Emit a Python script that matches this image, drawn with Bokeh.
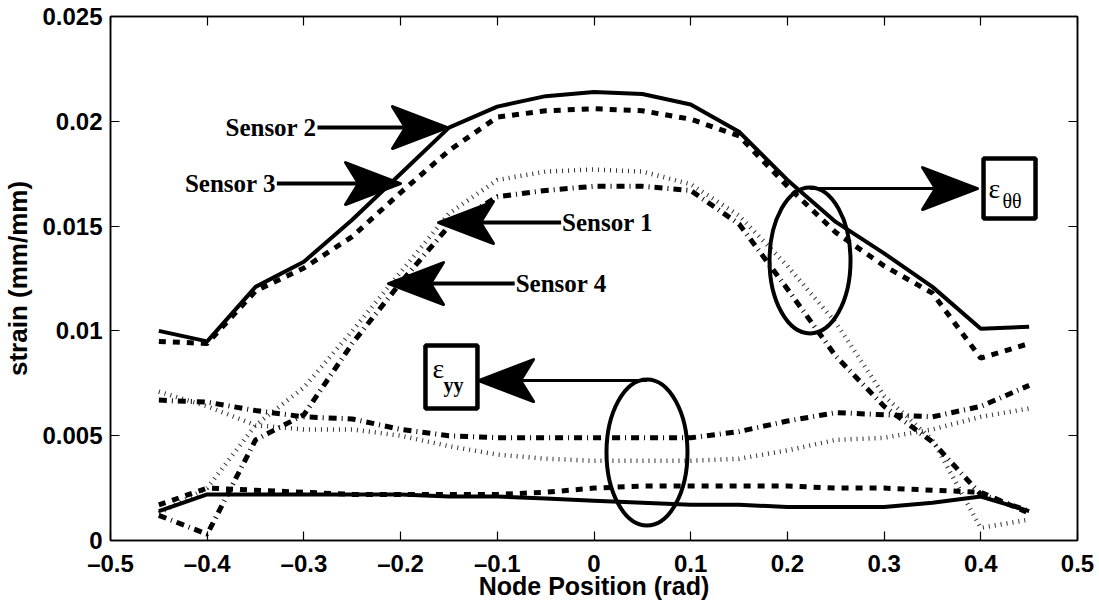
from bokeh.plotting import figure
from bokeh.models import FixedTicker, LinearAxis, Range1d
from bokeh.embed import file_html
from bokeh.resources import INLINE
from bokeh.core.properties import value

# ---------------- data ----------------
node_pos = [-0.45, -0.40, -0.35, -0.30, -0.25, -0.20, -0.15, -0.10, -0.05, 0.00,
            0.05, 0.10, 0.15, 0.20, 0.25, 0.30, 0.35, 0.40, 0.45]

# hoop strain (eps_theta_theta)
s1_theta = [0.0013, 0.0025, 0.0055, 0.0073, 0.0100, 0.0128, 0.0156, 0.0172, 0.0176, 0.0177,
            0.0176, 0.0170, 0.0155, 0.0131, 0.0104, 0.0069, 0.0048, 0.0006, 0.0010]
s2_theta = [0.0100, 0.0095, 0.0121, 0.0133, 0.0153, 0.0175, 0.0197, 0.0207, 0.0212, 0.0214,
            0.0213, 0.0208, 0.0195, 0.0172, 0.0152, 0.0137, 0.0121, 0.0101, 0.0102]
s3_theta = [0.0095, 0.0094, 0.0119, 0.0130, 0.0145, 0.0166, 0.0186, 0.0202, 0.0205, 0.0206,
            0.0205, 0.0201, 0.0193, 0.0169, 0.0147, 0.0131, 0.0118, 0.0087, 0.0094]
s4_theta = [0.0012, 0.0003, 0.0048, 0.0060, 0.0094, 0.0123, 0.0150, 0.0164, 0.0167, 0.0169,
            0.0169, 0.0167, 0.0151, 0.0120, 0.0088, 0.0064, 0.0047, 0.0022, 0.0014]

# axial strain (eps_yy)
s1_yy = [0.0071, 0.0064, 0.0055, 0.0053, 0.0053, 0.0050, 0.0045, 0.0041, 0.0039, 0.0038,
         0.0038, 0.0038, 0.0039, 0.0043, 0.0048, 0.0049, 0.0053, 0.0059, 0.0063]
s2_yy = [0.0014, 0.0022, 0.0022, 0.0022, 0.0022, 0.0022, 0.0021, 0.0021, 0.0020, 0.0019,
         0.0018, 0.0017, 0.0017, 0.0016, 0.0016, 0.0016, 0.0018, 0.0021, 0.0014]
s3_yy = [0.0017, 0.0025, 0.0024, 0.0023, 0.0022, 0.0022, 0.0022, 0.0022, 0.0023, 0.0025,
         0.0026, 0.0026, 0.0026, 0.0026, 0.0025, 0.0025, 0.0024, 0.0023, 0.0013]
s4_yy = [0.0067, 0.0066, 0.0062, 0.0059, 0.0058, 0.0053, 0.0050, 0.0049, 0.0049, 0.0049,
         0.0049, 0.0049, 0.0052, 0.0057, 0.0061, 0.0060, 0.0059, 0.0064, 0.0074]

x_ticks = [-0.5, -0.4, -0.3, -0.2, -0.1, 0.0, 0.1, 0.2, 0.3, 0.4, 0.5]
x_tick_labels = ["\u20130.5", "\u20130.4", "\u20130.3", "\u20130.2", "\u20130.1", "0",
                 "0.1", "0.2", "0.3", "0.4", "0.5"]
y_ticks = [0.0, 0.005, 0.01, 0.015, 0.02, 0.025]
y_tick_labels = ["0", "0.005", "0.01", "0.015", "0.02", "0.025"]

# annotations (data coordinates)
sensor_names = ["Sensor 2", "Sensor 3", "Sensor 1", "Sensor 4"]
sensor_text_x = [-0.287, -0.329, -0.033, -0.081]
sensor_text_y = [0.01970, 0.01703, 0.01517, 0.01226]
sensor_tip_x = [-0.1515, -0.2001, -0.1608, -0.2125]
sensor_dir = [1, 1, -1, -1]

ell_x = [0.2234, 0.0548]
ell_y = [0.01336, 0.0042]
ell_arrow_tip_x = [0.3966, -0.1194]
ell_arrow_y = [0.01679, 0.00763]
ell_dir = [1, -1]
box_x = [0.4297, -0.1474]
box_y = [0.01679, 0.0078]

# ---------------- figure ----------------
FONT = "Liberation Sans"
SERIF = "Liberation Serif"

p = figure(width=1099, height=602, x_range=Range1d(-0.5, 0.5), y_range=Range1d(0, 0.025),
           output_backend="svg", toolbar_location=None,
           min_border_left=110, min_border_right=22, min_border_top=16, min_border_bottom=62)
p.xgrid.visible = False
p.ygrid.visible = False
p.outline_line_color = "black"
p.outline_line_width = 1.5
p.outline_line_alpha = 1.0
p.background_fill_color = "white"
p.border_fill_color = "white"

def style_axis(ax, ticks, labels, show_labels=True):
    ax.ticker = FixedTicker(ticks=ticks)
    ax.major_label_overrides = dict(zip(ticks, labels))
    ax.major_tick_in = 9
    ax.major_tick_out = 0
    ax.minor_tick_in = 0
    ax.minor_tick_out = 0
    ax.axis_line_color = "black"
    ax.axis_line_width = 1.5
    ax.major_tick_line_color = "black"
    ax.major_tick_line_width = 1.2
    ax.major_label_text_font = FONT
    ax.major_label_text_font_style = "bold"
    ax.major_label_text_color = "black"
    if show_labels:
        ax.major_label_text_font_size = "24px"
    else:
        ax.major_label_text_font_size = "0px"
        ax.major_label_standoff = 0

xb = p.xaxis[0]
style_axis(xb, x_ticks, x_tick_labels)
xb.major_label_standoff = 9
xb.axis_label = "Node Position (rad)"
xb.axis_label_text_font = FONT
xb.axis_label_text_font_style = "bold"
xb.axis_label_text_font_size = "25px"
xb.axis_label_text_color = "black"
xb.axis_label_standoff = -8

yl = p.yaxis[0]
style_axis(yl, y_ticks, y_tick_labels)
yl.major_label_standoff = 8
yl.axis_label = "strain (mm/mm)"
yl.axis_label_text_font = FONT
yl.axis_label_text_font_style = "bold"
yl.axis_label_text_font_size = "26px"
yl.axis_label_text_color = "black"
yl.axis_label_standoff = 6

xt = LinearAxis()
style_axis(xt, x_ticks, [""] * len(x_ticks), show_labels=False)
p.add_layout(xt, "above")
yr = LinearAxis()
style_axis(yr, y_ticks, [""] * len(y_ticks), show_labels=False)
p.add_layout(yr, "right")

# ---------------- curves ----------------
SOLID = dict(line_color="black", line_width=4)
DASHED = dict(line_color="black", line_width=5, line_dash="7 7")
DASHDOT = dict(line_color="black", line_width=5, line_dash="8 5 1 5")
DOTTED = dict(line_color="#333333", line_width=4.5, line_dash="1 5")

p.line(node_pos, s1_theta, **DOTTED)
p.line(node_pos, s1_yy, **DOTTED)
p.line(node_pos, s4_theta, **DASHDOT)
p.line(node_pos, s4_yy, **DASHDOT)
p.line(node_pos, s3_theta, **DASHED)
p.line(node_pos, s3_yy, **DASHED)
p.line(node_pos, s2_theta, **SOLID)
p.line(node_pos, s2_yy, **SOLID)

# ---------------- annotations ----------------
SX = 1.0 / 967.0       # data units per pixel (x)
SY = 0.025 / 524.0     # data units per pixel (y)
HEAD_L, HEAD_N, HEAD_W = 55, 42, 21

def arrow(x0, tip_x, y, d, width):
    p.line([x0, tip_x - d * HEAD_N * SX], [y, y], line_color="black", line_width=width)
    xs = [tip_x, tip_x - d * HEAD_L * SX, tip_x - d * HEAD_N * SX, tip_x - d * HEAD_L * SX]
    ys = [y, y + HEAD_W * SY, y, y - HEAD_W * SY]
    p.patch(xs, ys, fill_color="black", line_color="black", line_width=3, line_join="round")

for name, tx, ty, tip, d in zip(sensor_names, sensor_text_x, sensor_text_y, sensor_tip_x, sensor_dir):
    start = tx + (1 if d > 0 else -1) * 1 * SX
    arrow(start, tip, ty, d, 4)
    p.text([tx], [ty], text=[name], text_font=value(SERIF), text_font_style="bold",
           text_font_size="25px", text_color="black", text_baseline="middle",
           text_align="right" if d > 0 else "left")

p.ellipse(ell_x, ell_y, width=81, height=146, width_units="screen", height_units="screen",
          fill_color=None, line_color="black", line_width=4)

for ex, tip, ay, d in zip(ell_x, ell_arrow_tip_x, ell_arrow_y, ell_dir):
    arrow(ex, tip, ay, d, 3)

p.rect(box_x, box_y, width=[52, 52], height=[60, 63], width_units="screen", height_units="screen",
       fill_color="white", line_color="black", line_width=4.5)

# eps_theta_theta label
p.text([box_x[0] - 21 * SX], [box_y[0]], text=["\u03b5"], text_font=value(SERIF),
       text_font_size="28px", text_baseline="middle", text_align="left", text_color="black")
p.text([box_x[0] - 7 * SX], [box_y[0] - 12 * SY], text=["\u03b8\u03b8"], text_font=value(SERIF),
       text_font_size="20px", text_baseline="middle", text_align="left", text_color="black")
# eps_yy label
p.text([box_x[1] - 19 * SX], [box_y[1] + 9 * SY], text=["\u03b5"], text_font=value(SERIF),
       text_font_size="28px", text_baseline="middle", text_align="left", text_color="black")
p.text([box_x[1] - 8 * SX], [box_y[1] - 8 * SY], text=["yy"], text_font=value(SERIF),
       text_font_style="bold", text_font_size="20px", text_baseline="middle", text_align="left",
       text_color="black")

open("out.html", "w").write(file_html(p, INLINE))
